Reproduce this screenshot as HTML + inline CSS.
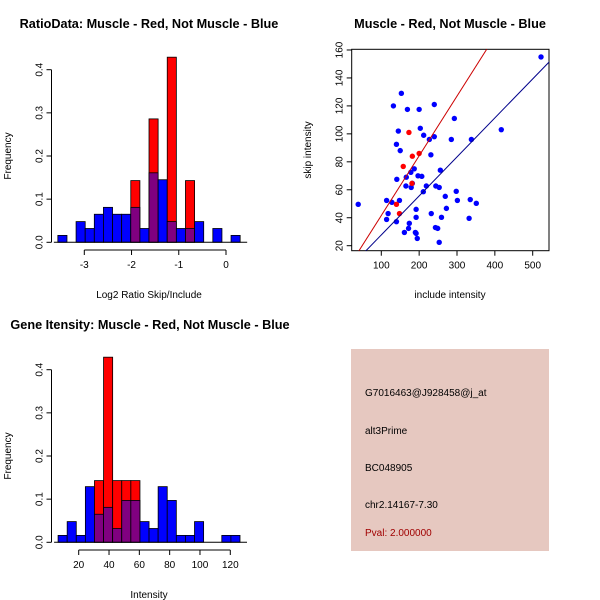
<!DOCTYPE html>
<html><head><meta charset="utf-8">
<style>
html,body{margin:0;padding:0;background:#fff;}
svg{display:block;font-family:"Liberation Sans",sans-serif;}
</style></head>
<body>
<svg id="chart" width="600" height="600" viewBox="0 0 600 600">
  <rect x="0" y="0" width="600" height="600" fill="#fff"/>
  <text x="149" y="28" font-size="12.7" font-weight="bold" text-anchor="middle">RatioData: Muscle - Red, Not Muscle - Blue</text>
  <text x="450" y="28" font-size="12.7" font-weight="bold" text-anchor="middle">Muscle - Red, Not Muscle - Blue</text>
  <text x="150" y="329" font-size="12.7" font-weight="bold" text-anchor="middle">Gene Itensity: Muscle - Red, Not Muscle - Blue</text>
  <text x="149" y="298" font-size="10" text-anchor="middle">Log2 Ratio Skip/Include</text>
  <text x="11" y="156" font-size="10" text-anchor="middle" transform="rotate(-90 11 156)">Frequency</text>
  <text x="450" y="298" font-size="10" text-anchor="middle">include intensity</text>
  <text x="311" y="150" font-size="10" text-anchor="middle" transform="rotate(-90 311 150)">skip intensity</text>
  <text x="149" y="598" font-size="10" text-anchor="middle">Intensity</text>
  <text x="11" y="456" font-size="10" text-anchor="middle" transform="rotate(-90 11 456)">Frequency</text>
  <g id="g1"></g>
  <g id="g2"></g>
  <g id="g3"></g>
  <g>
    <rect x="351" y="349" width="198" height="202" fill="#e6c8c0"/>
    <text x="365" y="396" font-size="10">G7016463@J928458@j_at</text>
    <text x="365" y="434" font-size="10">alt3Prime</text>
    <text x="365" y="471" font-size="10">BC048905</text>
    <text x="365" y="508" font-size="10">chr2.14167-7.30</text>
    <text x="365" y="536" font-size="10" fill="#a00000">Pval: 2.000000</text>
  </g>
</svg>
<script>
// ---- histogram 1 data (Log2 ratio) ----
const ratioBinStart = -3.56;
const ratioBinWidth = 0.193;
const ratioBlue = [0.016,0,0.048,0.032,0.065,0.081,0.065,0.065,0.081,0.032,0.161,0.145,0.048,0.032,0.032,0.048,0,0.032,0,0.016];
const ratioRed  = [0,0,0,0,0,0,0,0,0.143,0,0.286,0,0.429,0,0.143,0,0,0,0,0];
const ratioXTicks = [-3,-2,-1,0];
const freqTicks = [0.0,0.1,0.2,0.3,0.4];
const freqTickLabels = ["0.0","0.1","0.2","0.3","0.4"];
// ---- histogram 2 data (intensity) ----
const intBinStart = 6.4;
const intBinWidth = 6;
const intBlue = [0.016,0.048,0.016,0.129,0.065,0.081,0.032,0.097,0.097,0.048,0.032,0.129,0.097,0.016,0.016,0.048,0,0,0.016,0.016];
const intRed  = [0,0,0,0,0.143,0.429,0.143,0.143,0.143,0,0,0,0,0,0,0,0,0,0,0];
const intXTicks = [20,40,60,80,100,120];
// ---- scatter data ----
const blueX = [522,153,132,169,200,240,293,145,203,212,227,240,285,338,417,140,150,231,187,178,141,166,197,207,256,165,179,182,219,244,253,211,269,298,114,128,148,301,335,351,39,272,118,192,232,114,140,192,259,332,174,172,161,190,195,243,249,253,192];
const blueY = [155,129,120,117.5,117.5,121,111,102,104,99,96,98,96,96,103,92.5,88,85,75,72.5,67.5,69,70,69.6,74,62.7,61.7,64.6,62.7,62.7,61.7,58.6,55.3,58.9,52.4,51,52.4,52.4,53,50.3,49.6,46.7,43,46,43,38.8,37.2,40.3,40.3,39.6,36,32.4,29.5,29.5,25.2,33,32.4,22.4,28.8];
const redX = [173,182,200,158,181,140,148];
const redY = [101,84,86,76.7,64.6,49.6,43];
const redFit = [-1.1,0.427];   // intercept, slope
const blueFit = [-0.2,0.279];
const scXTicks = [100,200,300,400,500];
const scYTicks = [20,40,60,80,100,120,140,160];

const NS="http://www.w3.org/2000/svg";
function mk(parent,tag,attrs){const e=document.createElementNS(NS,tag);for(const k in attrs)e.setAttribute(k,attrs[k]);parent.appendChild(e);return e;}

function histogram(g,opt){
  const yS=v=>opt.y0+(opt.y04-opt.y0)*v/0.4;
  const xS=v=>opt.xa+(v-opt.va)*(opt.xb-opt.xa)/(opt.vb-opt.va);
  for(let i=0;i<opt.blue.length;i++){
    const l=xS(opt.start+i*opt.width), r=xS(opt.start+(i+1)*opt.width);
    const b=opt.blue[i], rd=opt.red[i];
    const top=Math.max(b,rd);
    if(top<=0)continue;
    const col = rd>b ? "#ff0000" : "#0000ff";
    const bar=mk(g,"rect",{x:l,y:yS(top),width:r-l,height:yS(0)-yS(top),fill:col,stroke:"#000","stroke-width":0.8});
    
    
    const ov=Math.min(b,rd);
    if(ov>0){
      const p=mk(g,"rect",{x:l,y:yS(ov),width:r-l,height:yS(0)-yS(ov),fill:"#800080",stroke:"#000","stroke-width":0.8});
      
      
    }
  }
  const ya=mk(g,"line",{x1:opt.yax,x2:opt.yax,y1:yS(0),y2:yS(0.4),stroke:"#000"});
  
  
  freqTicks.forEach((t,i)=>{
    mk(g,"line",{x1:opt.yax-5,x2:opt.yax,y1:yS(t),y2:yS(t),stroke:"#000"});
    const tx=mk(g,"text",{x:opt.yax-9,y:yS(t),"font-size":10,"text-anchor":"middle",transform:`rotate(-90 ${opt.yax-9} ${yS(t)})`});
    tx.textContent=freqTickLabels[i];
    
    
  });
  mk(g,"line",{x1:xS(opt.start)-4,x2:xS(opt.start+opt.blue.length*opt.width)+7,y1:yS(0),y2:yS(0),stroke:"#000"});
  const xt=opt.ticks;
  const xa=mk(g,"line",{x1:xS(xt[0]),x2:xS(xt[xt.length-1]),y1:opt.xay,y2:opt.xay,stroke:"#000"});
  
  
  xt.forEach(t=>{
    mk(g,"line",{x1:xS(t),x2:xS(t),y1:opt.xay,y2:opt.xay+5,stroke:"#000"});
    const tx=mk(g,"text",{x:xS(t),y:opt.xay+18,"font-size":10,"text-anchor":"middle"});
    tx.textContent=String(t);
    
    
  });
}
histogram(document.getElementById('g1'),{blue:ratioBlue,red:ratioRed,start:ratioBinStart,width:ratioBinWidth,ticks:ratioXTicks,
  y0:242.3,y04:69.7,xa:84.3,va:-3,xb:226,vb:0,yax:51.5,xay:250});
histogram(document.getElementById('g3'),{blue:intBlue,red:intRed,start:intBinStart,width:intBinWidth,ticks:intXTicks,
  y0:542.3,y04:369.7,xa:78.7,va:20,xb:230.3,vb:120,yax:51.5,xay:550});

(function(){
  const g=document.getElementById('g2');
  const L=351.7,R=549,T=49.3,B=250.7;
  const xS=v=>381.3+(v-100)*0.3785;
  const yS=v=>245.7-(v-20)*1.398;
  const cp=mk(g,"clipPath",{id:"scclip"});
  mk(cp,"rect",{x:L,y:T,width:R-L,height:B-T});
  const box=mk(g,"rect",{x:L,y:T,width:R-L,height:B-T,fill:"none",stroke:"#000"});
  
  
  scXTicks.forEach(t=>{
    mk(g,"line",{x1:xS(t),x2:xS(t),y1:B,y2:B+5,stroke:"#000"});
    const tx=mk(g,"text",{x:xS(t),y:B+18,"font-size":10,"text-anchor":"middle"});
    tx.textContent=String(t);
    
    
  });
  scYTicks.forEach(t=>{
    mk(g,"line",{x1:L-5,x2:L,y1:yS(t),y2:yS(t),stroke:"#000"});
    const tx=mk(g,"text",{x:L-9,y:yS(t),"font-size":10,"text-anchor":"middle",transform:`rotate(-90 ${L-9} ${yS(t)})`});
    tx.textContent=String(t);
    
    
  });
  const pts=mk(g,"g",{"clip-path":"url(#scclip)"});
  blueX.forEach((x,i)=>{
    const c=mk(pts,"circle",{cx:xS(x),cy:yS(blueY[i]),r:2.7,fill:"#0000ff"});
    
    
  });
  redX.forEach((x,i)=>{
    const c=mk(pts,"circle",{cx:xS(x),cy:yS(redY[i]),r:2.7,fill:"#ff0000"});
    
    
  });
  [[redFit,"#cc0000","fit-line-muscle"],[blueFit,"#00008b","fit-line-not-muscle"]].forEach(([f,col,nm])=>{
    const x1=0,x2=700;
    const ln=mk(pts,"line",{x1:xS(x1),y1:yS(f[0]+f[1]*x1),x2:xS(x2),y2:yS(f[0]+f[1]*x2),stroke:col,"stroke-width":1});
    
    
  });
})();
</script>
</body></html>
